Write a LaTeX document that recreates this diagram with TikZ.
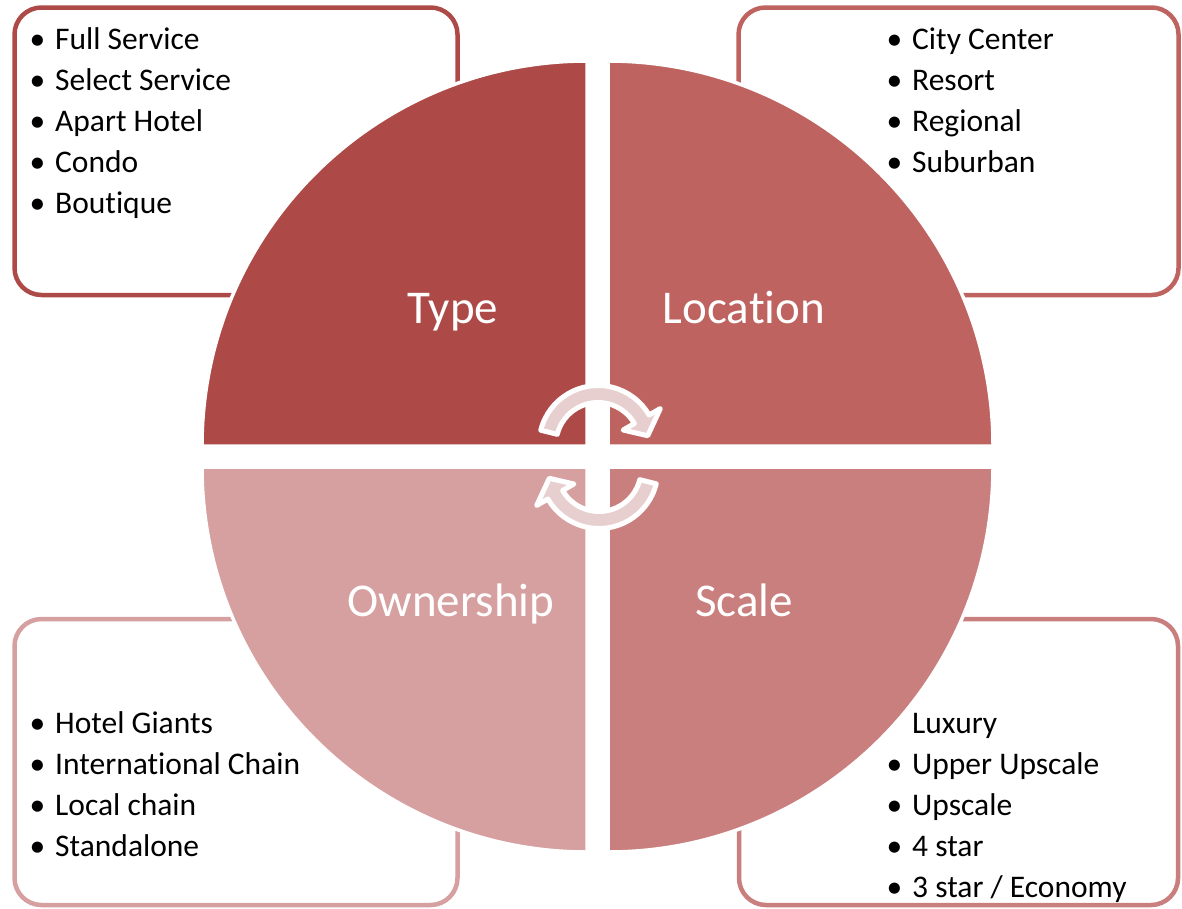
\documentclass[tikz,border=0pt]{standalone}
\usepackage{fontspec}
\setmainfont[Ligatures=NoCommon]{Carlito}
\definecolor{typecol}{HTML}{AD4A47}
\definecolor{loccol}{HTML}{BE635F}
\definecolor{scalecol}{HTML}{C87F7E}
\definecolor{owncol}{HTML}{D6A0A0}
\definecolor{cyccol}{HTML}{E8CFCF}
\begin{document}
\begin{tikzpicture}[x=1pt, y=-1pt,
  box/.style={line width=4.5pt, rounded corners=27pt},
  quad/.style={draw=white, line width=3.5pt},
  item/.style={anchor=base west, inner sep=0pt, font=\fontsize{31.5}{38}\selectfont},
  lbl/.style={anchor=base, inner sep=0pt, text=white, font=\fontsize{47}{56}\selectfont},
  cyc/.style={fill=cyccol, draw=white, line width=5pt, line join=round}]
\useasboundingbox (0,0) rectangle (1182,908);
% boxes behind the circle
\draw[box, typecol] (14.5,7.5) rectangle (457.5,295);
\draw[box, loccol] (738.5,7.5) rectangle (1178.5,295);
\draw[box, owncol] (14.5,619) rectangle (457.5,905);
\draw[box, scalecol] (739,619) rectangle (1178,905);
% lists
\foreach \t [count=\i] in {Full Service, Select Service, Apart Hotel, Condo, Boutique}
  \node[item] (type\i) at (55,{8+41*\i}) {\llap{\textbullet\hspace{10pt}}\t};
\foreach \t [count=\i] in {City Center, Resort, Regional, Suburban}
  \node[item] (loc\i) at (912,{8+41*\i}) {\llap{\textbullet\hspace{10pt}}\t};
\foreach \t [count=\i] in {Hotel Giants, International Chain, Local chain, Standalone}
  \node[item] (own\i) at (55,{692+41*\i}) {\llap{\textbullet\hspace{10pt}}\t};
\node[item] (scale1) at (912,733) {Luxury};
\foreach \t [count=\i from 2] in {Upper Upscale, Upscale, 4 star, {3 star / Economy}}
  \node[item] (scale\i) at (912,{692+41*\i}) {\llap{\textbullet\hspace{10pt}}\t};
% quadrants
\filldraw[quad, fill=typecol] (587,446) -- ++(-385,0) arc[start angle=180, end angle=270, radius=385] -- cycle;
\filldraw[quad, fill=loccol] (608,446) -- ++(0,-385) arc[start angle=270, end angle=360, radius=385] -- cycle;
\filldraw[quad, fill=scalecol] (608,467) -- ++(385,0) arc[start angle=0, end angle=90, radius=385] -- cycle;
\filldraw[quad, fill=owncol] (587,467) -- ++(0,385) arc[start angle=90, end angle=180, radius=385] -- cycle;
\node[lbl] (type) at (453,323) {Type};
\node[lbl] (loc) at (744,323) {Location};
\node[lbl] (own) at (451,616) {Ownership};
\node[lbl] (scale) at (744,616) {Scale};
% cycle arrows
\begin{scope}[shift={(598,444.5)}]
\draw[cyc] (194:59) arc[start angle=194, end angle=330, radius=59] -- (330:72) -- (350:50.5) -- (330:29) -- (330:42) arc[start angle=330, end angle=194, radius=42] -- cycle;
\end{scope}
\begin{scope}[shift={(599,469.5)}]
\draw[cyc] (14:59) arc[start angle=14, end angle=150, radius=59] -- (150:72) -- (170:50.5) -- (150:29) -- (150:42) arc[start angle=150, end angle=14, radius=42] -- cycle;
\end{scope}
\end{tikzpicture}
\end{document}
